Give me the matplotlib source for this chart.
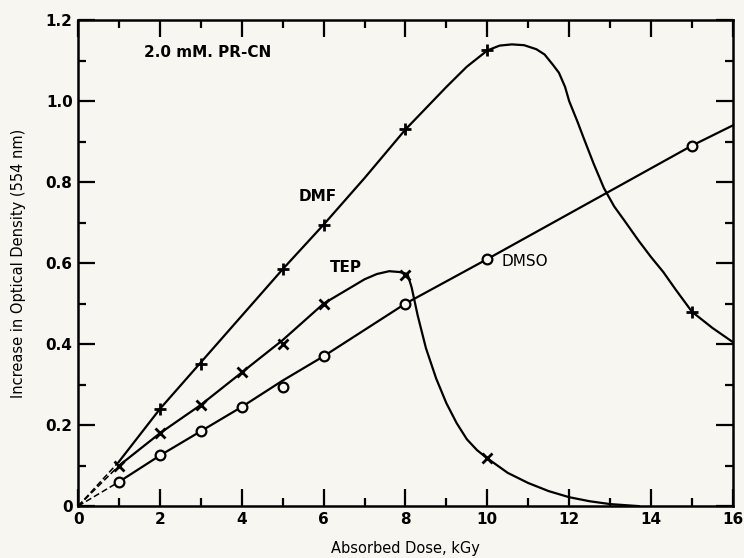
import matplotlib
matplotlib.use("Agg")
import matplotlib.pyplot as plt
from matplotlib.ticker import MultipleLocator

# measured points (dose in kGy, optical density increase)
dmf_x = [2, 3, 5, 6, 8, 10, 15]
dmf_y = [0.24, 0.35, 0.585, 0.695, 0.93, 1.125, 0.48]
tep_x = [1, 2, 3, 4, 5, 6, 8, 10]
tep_y = [0.10, 0.18, 0.25, 0.33, 0.40, 0.50, 0.57, 0.12]
dmso_x = [1, 2, 3, 4, 5, 6, 8, 10, 15]
dmso_y = [0.06, 0.125, 0.185, 0.245, 0.295, 0.37, 0.50, 0.61, 0.89]

# hand-drawn curves
dmf_cx = [1, 2, 3, 4, 5, 6, 7, 8, 9, 9.5, 10, 10.3, 10.6, 10.9, 11.2, 11.4,
          11.6, 11.75, 11.9, 12.0, 12.2, 12.35, 12.6, 12.85, 13.1, 13.35,
          13.7, 14.0, 14.3, 14.6, 15, 15.5, 16]
dmf_cy = [0.11, 0.24, 0.355, 0.47, 0.585, 0.695, 0.81, 0.93, 1.035, 1.085,
          1.125, 1.137, 1.14, 1.138, 1.128, 1.115, 1.09, 1.07, 1.035, 1.0,
          0.95, 0.91, 0.845, 0.785, 0.74, 0.705, 0.655, 0.615, 0.578, 0.535,
          0.48, 0.44, 0.405]
tep_cx = [1, 2, 3, 4, 5, 6, 6.5, 7.0, 7.3, 7.6, 7.85, 8.05, 8.15, 8.3, 8.5,
          8.75, 9.0, 9.25, 9.5, 9.75, 10, 10.5, 11, 11.5, 12, 12.5, 13, 13.7]
tep_cy = [0.10, 0.18, 0.25, 0.33, 0.41, 0.50, 0.53, 0.56, 0.573, 0.58,
          0.578, 0.573, 0.54, 0.47, 0.39, 0.315, 0.254, 0.205, 0.165, 0.138,
          0.118, 0.082, 0.057, 0.037, 0.022, 0.012, 0.005, 0.0]
dmso_cx = [1, 2, 3, 4, 5, 6, 8, 10, 15, 16]
dmso_cy = [0.06, 0.125, 0.185, 0.245, 0.31, 0.37, 0.50, 0.61, 0.89, 0.94]

x_ticks = [0, 2, 4, 6, 8, 10, 12, 14, 16]
x_labels = ["0", "2", "4", "6", "8", "10", "12", "14", "16"]
y_ticks = [0, 0.2, 0.4, 0.6, 0.8, 1.0, 1.2]
y_labels = ["0", "0.2", "0.4", "0.6", "0.8", "1.0", "1.2"]

paper = "#f8f6f0"
fig = plt.figure(figsize=(7.44, 5.58), dpi=100, facecolor=paper)
ax = fig.add_axes([0.105, 0.093, 0.880, 0.871])
ax.set_facecolor(paper)

lw = 1.6
for cx, cy in [(dmf_cx, dmf_cy), (tep_cx, tep_cy), (dmso_cx, dmso_cy)]:
    ax.plot([0, cx[0]], [0, cy[0]], color="black", lw=1.1, ls=(0, (4, 2)))
    ax.plot(cx, cy, color="black", lw=lw, solid_joinstyle="round")

ax.plot(dmf_x, dmf_y, ls="none", marker="+", ms=9, mew=2.0, color="black")
ax.plot(tep_x, tep_y, ls="none", marker="x", ms=7, mew=2.0, color="black")
ax.plot(dmso_x, dmso_y, ls="none", marker="o", ms=7, mew=1.6,
        mfc=paper, mec="black")

ax.set_xlim(0, 16)
ax.set_ylim(0, 1.2)
ax.set_xticks(x_ticks)
ax.set_xticklabels(x_labels)
ax.set_yticks(y_ticks)
ax.set_yticklabels(y_labels)
ax.xaxis.set_minor_locator(MultipleLocator(1))
ax.yaxis.set_minor_locator(MultipleLocator(0.1))
ax.tick_params(which="both", direction="in", top=True, right=True,
               width=1.6, labelsize=11, pad=4)
ax.tick_params(which="major", length=12)
ax.tick_params(which="minor", length=6)
for lab in ax.get_xticklabels() + ax.get_yticklabels():
    lab.set_fontweight("bold")
for sp in ax.spines.values():
    sp.set_linewidth(1.8)

ax.set_xlabel("Absorbed Dose, kGy", fontsize=10.5, labelpad=10)
ax.set_ylabel("Increase in Optical Density (554 nm)", fontsize=10.5,
              labelpad=14)

ax.text(1.6, 1.12, "2.0 mM. PR-CN", fontsize=11, fontweight="bold",
        va="center", ha="left")
ax.text(5.4, 0.765, "DMF", fontsize=11, fontweight="bold", va="center")
ax.text(6.15, 0.59, "TEP", fontsize=11, fontweight="bold", va="center")
ax.text(10.35, 0.605, "DMSO", fontsize=11, va="center")

fig.savefig("out.png", dpi=100, facecolor=paper)
